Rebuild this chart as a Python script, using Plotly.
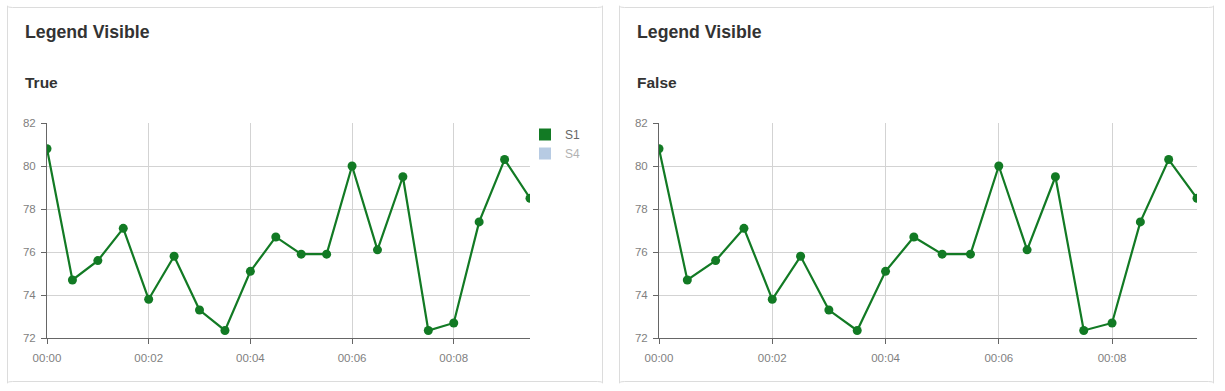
import plotly.graph_objects as go

# ---- data ----
times = ["2000-01-01 00:00:00", "2000-01-01 00:00:30", "2000-01-01 00:01:00", "2000-01-01 00:01:30",
         "2000-01-01 00:02:00", "2000-01-01 00:02:30", "2000-01-01 00:03:00", "2000-01-01 00:03:30",
         "2000-01-01 00:04:00", "2000-01-01 00:04:30", "2000-01-01 00:05:00", "2000-01-01 00:05:30",
         "2000-01-01 00:06:00", "2000-01-01 00:06:30", "2000-01-01 00:07:00", "2000-01-01 00:07:30",
         "2000-01-01 00:08:00", "2000-01-01 00:08:30", "2000-01-01 00:09:00", "2000-01-01 00:09:30"]
s1_values = [80.8, 74.7, 75.6, 77.1, 73.8, 75.8, 73.3, 72.35, 75.1, 76.7,
             75.9, 75.9, 80.0, 76.1, 79.5, 72.35, 72.7, 77.4, 80.3, 78.5]
y_ticks = [72, 74, 76, 78, 80, 82]
card_titles = ["Legend Visible", "Legend Visible"]
card_subtitles = ["True", "False"]
series_names = ["S1", "S4"]

W, H = 1225, 391
GREEN = "#127a24"
S4_COLOR = "#7199c9"


def fx(px):
    return px / W


def fy(py):
    return 1 - py / H


fig = go.Figure()

fig.add_trace(go.Scatter(x=times, y=s1_values, mode="lines+markers", name=series_names[0],
                         line=dict(color=GREEN, width=2.2), marker=dict(color=GREEN, size=9),
                         showlegend=False, xaxis="x", yaxis="y"))
fig.add_trace(go.Scatter(x=times, y=s1_values, mode="lines+markers", name=series_names[0],
                         line=dict(color=GREEN, width=2.2), marker=dict(color=GREEN, size=9),
                         showlegend=False, xaxis="x2", yaxis="y2"))
fig.add_trace(go.Bar(x=[None], y=[None], name=series_names[0], marker=dict(color=GREEN, line=dict(width=0)),
                     xaxis="x", yaxis="y"))
fig.add_trace(go.Bar(x=[None], y=[None], name=series_names[1], marker=dict(color=S4_COLOR, line=dict(width=0)),
                     visible="legendonly", xaxis="x", yaxis="y"))

axis_common = dict(showline=True, linecolor="#666", linewidth=1, ticks="outside", ticklen=5,
                   tickcolor="#666", gridcolor="#d3d3d3", gridwidth=1, zeroline=False, automargin=False,
                   tickfont=dict(family="Liberation Sans", size=11.5, color="#7f7f7f"), fixedrange=True)

xr = ["2000-01-01 00:00:00", "2000-01-01 00:09:30"]
xa = dict(range=xr, type="date", tickformat="%H:%M", dtick=120000, ticklabelstandoff=4, **axis_common)
ya = dict(range=[72, 82], tickvals=y_ticks, ticklabelstandoff=3, **axis_common)
fig.update_layout(
    width=W, height=H, margin=dict(l=0, r=0, t=0, b=0, pad=0),
    paper_bgcolor="white", plot_bgcolor="white",
    xaxis=dict(domain=[fx(47), fx(530)], anchor="y", **xa),
    yaxis=dict(domain=[fy(338), fy(123)], anchor="x", **ya),
    xaxis2=dict(domain=[fx(659), fx(1197)], anchor="y2", **xa),
    yaxis2=dict(domain=[fy(338), fy(123)], anchor="x2", **ya),
    legend=dict(x=fx(525), y=fy(120), xanchor="left", yanchor="top", bgcolor="rgba(0,0,0,0)",
                font=dict(family="Liberation Sans", size=12, color="#666"), itemclick=False,
                itemdoubleclick=False, tracegroupgap=0),
    showlegend=True,
)


def rounded_rect(x0, y0, x1, y1, r):
    return (f"M{x0+r},{y0} L{x1-r},{y0} Q{x1},{y0} {x1},{y0+r} L{x1},{y1-r} Q{x1},{y1} {x1-r},{y1} "
            f"L{x0+r},{y1} Q{x0},{y1} {x0},{y1-r} L{x0},{y0+r} Q{x0},{y0} {x0+r},{y0} Z")

for (x0, x1) in [(7.5, 602.5), (619.5, 1213.5)]:
    fig.add_shape(type="path", xref="paper", yref="paper", layer="below",
                  path=rounded_rect(fx(x0), fy(7.5), fx(x1), fy(381.5), 0.004),
                  line=dict(color="#dcdcdc", width=1), fillcolor="rgba(0,0,0,0)")

for i, x0 in enumerate([24, 636]):
    fig.add_annotation(x=fx(x0 - 1), y=fy(32), xref="paper", yref="paper", xanchor="left", yanchor="middle",
                       text=f"<b>{card_titles[i]}</b>", showarrow=False,
                       font=dict(family="Liberation Sans", size=17.7, color="#333"))
    fig.add_annotation(x=fx(x0 - 1), y=fy(82), xref="paper", yref="paper", xanchor="left", yanchor="middle",
                       text=f"<b>{card_subtitles[i]}</b>", showarrow=False,
                       font=dict(family="Liberation Sans", size=15.5, color="#333"))

fig.write_html("out.html", config={"displayModeBar": False},
               post_script="document.body.style.margin='0';document.body.style.overflow='hidden';")
